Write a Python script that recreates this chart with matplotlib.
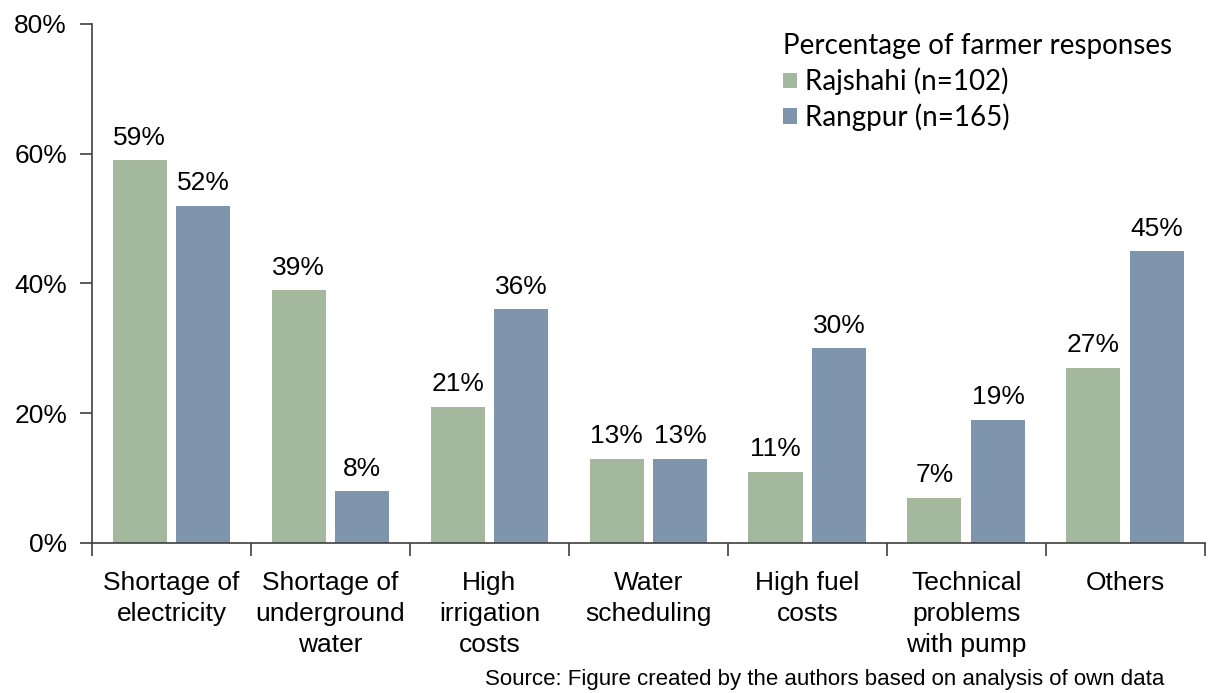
import matplotlib.pyplot as plt
import numpy as np

categories = ["Shortage of\nelectricity", "Shortage of\nunderground\nwater",
              "High\nirrigation\ncosts", "Water\nscheduling", "High fuel\ncosts",
              "Technical\nproblems\nwith pump", "Others"]
rajshahi = [59, 39, 21, 13, 11, 7, 27]
rangpur = [52, 8, 36, 13, 30, 19, 45]
series_names = ["Rajshahi (n=102)", "Rangpur (n=165)"]
yticks = [0, 20, 40, 60, 80]

green = "#a4b89d"
blue = "#7f95ad"

plt.rcParams['font.family'] = ['Liberation Sans', 'DejaVu Sans']

fig = plt.figure(figsize=(12.08, 6.93), dpi=100)
ax = fig.add_axes([0.0762, 0.2165, 0.921, 0.749])

x = np.arange(len(categories))
w = 0.34
b1 = ax.bar(x - 0.2, rajshahi, w, color=green, label=series_names[0])
b2 = ax.bar(x + 0.2, rangpur, w, color=blue, label=series_names[1])

for bars, vals in ((b1, rajshahi), (b2, rangpur)):
    for r, v in zip(bars, vals):
        ax.text(r.get_x() + r.get_width() / 2, v + 1.6, f"{v}%",
                ha="center", va="bottom", fontsize=19)

ax.set_xlim(-0.5, len(categories) - 0.5)
ax.set_ylim(0, 80)
ax.set_yticks(yticks)
ax.set_yticklabels([f"{t}%" for t in yticks], fontsize=19)
ax.set_xticks(np.arange(len(categories) + 1) - 0.5)
ax.set_xticklabels([])
ax.set_xticks(x, minor=True)
ax.set_xticklabels(categories, minor=True, fontsize=19, linespacing=1.38)
ax.tick_params(axis="x", which="minor", length=0, pad=20)
ax.tick_params(axis="x", which="major", length=9, width=1.2, color="#404040")
ax.tick_params(axis="y", length=9, width=1.2, color="#404040", pad=9)

for s in ("top", "right"):
    ax.spines[s].set_visible(False)
for s in ("left", "bottom"):
    ax.spines[s].set_color("#404040")
    ax.spines[s].set_linewidth(1.2)

leg = ax.legend(title="Percentage of farmer responses", loc="upper right",
                bbox_to_anchor=(0.993, 1.03), frameon=False, alignment="left",
                prop={"family": "Lato", "size": 20}, handlelength=0.5,
                handleheight=0.5, handletextpad=0.3, labelspacing=0.3)
leg.get_title().set_fontfamily("Lato")
leg.get_title().set_fontsize(20)

fig.text(0.964, 0.005, "Source: Figure created by the authors based on analysis of own data",
         ha="right", va="bottom", fontsize=16)

fig.savefig("out.png", dpi=100)
